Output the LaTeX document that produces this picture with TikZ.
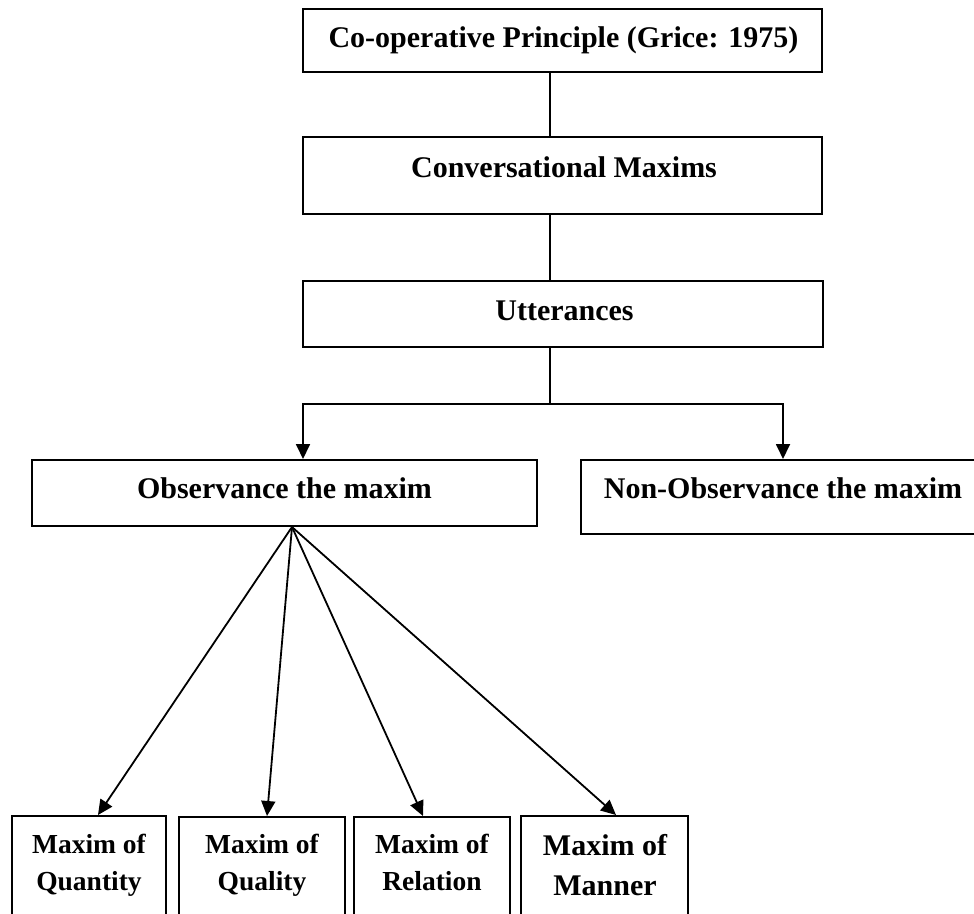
\documentclass[tikz,border=0pt]{standalone}
\usepackage{fontspec}
\setmainfont{Liberation Serif}
\usetikzlibrary{arrows.meta,calc}
\begin{document}
\begin{tikzpicture}[x=1pt,y=-1pt,
  box/.style={draw=black,line width=2pt,rectangle,inner sep=0pt},
  lbl/.style={anchor=base,inner sep=0pt,font=\fontsize{30}{36}\selectfont\bfseries},
  slbl/.style={anchor=base,inner sep=0pt,font=\fontsize{27.5}{33}\selectfont\bfseries},
  conn/.style={line width=1.8pt},
  arr/.style={line width=1.8pt,-{Triangle[length=15pt,width=14pt]}}]
\useasboundingbox (0,0) rectangle (974,913);
% boxes
\node[box,minimum width=519pt,minimum height=63pt] (top) at (562.5,40.5) {};
\node[box,minimum width=519pt,minimum height=77pt] (conv) at (562.5,175.5) {};
\node[box,minimum width=520pt,minimum height=66pt] (utt) at (563,314) {};
\node[box,minimum width=505pt,minimum height=66pt] (obs) at (284.5,493) {};
\node[box,minimum width=404pt,minimum height=74pt] (nob) at (783,497) {};
\node[box,minimum width=154pt,minimum height=134pt] (q1) at (89,883) {};
\node[box,minimum width=166pt,minimum height=134pt] (q2) at (262,884) {};
\node[box,minimum width=156pt,minimum height=134pt] (q3) at (432,884) {};
\node[box,minimum width=167pt,minimum height=134pt] (q4) at (604.5,883) {};
% texts
\node[lbl] (ttop) at (563.5,47) {Co-operative Principle (Grice: 1975)};
\node[lbl] (tconv) at (564,177) {Conversational Maxims};
\node[lbl] (tutt) at (564.5,320) {Utterances};
\node[lbl] (tobs) at (284.5,498) {Observance the maxim};
\node[lbl] (tnob) at (783,498) {Non-Observance the maxim};
\node[slbl] (tq1a) at (89,853) {Maxim of};
\node[slbl] (tq1b) at (89,890) {Quantity};
\node[slbl] (tq2a) at (262,853) {Maxim of};
\node[slbl] (tq2b) at (262,890) {Quality};
\node[slbl] (tq3a) at (432,853) {Maxim of};
\node[slbl] (tq3b) at (432,890) {Relation};
\node[lbl] (tq4a) at (605,855) {Maxim of};
\node[lbl] (tq4b) at (605,895) {Manner};
% connector coordinates
\coordinate (spine) at (550,0);
\coordinate (bj) at (550,404);
\coordinate (lx) at (303,0);
\coordinate (rx) at (783,0);
\coordinate (fan) at (292,527);
% connectors
\draw[conn] (top.south -| spine) -- (conv.north -| spine);
\draw[conn] (conv.south -| spine) -- (utt.north -| spine);
\draw[conn] (utt.south -| spine) -- (bj);
\draw[arr] (bj) -| (obs.north -| lx);
\draw[arr] (bj) -| (nob.north -| rx);
\draw[arr] (fan) -- ($(q1.north)+(9,0)$);
\draw[arr] (fan) -- ($(q2.north)+(5,0)$);
\draw[arr] (fan) -- ($(q3.north)+(-9,0)$);
\draw[arr] (fan) -- ($(q4.north)+(11.5,0)$);
\end{tikzpicture}
\end{document}
